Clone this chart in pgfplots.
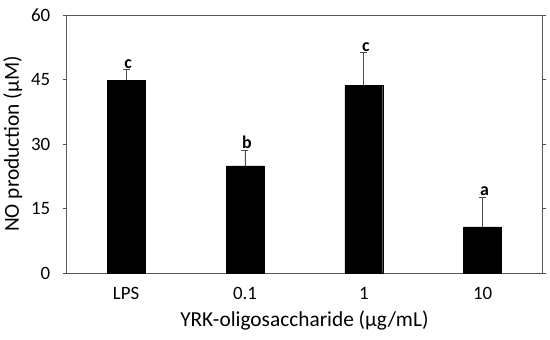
\documentclass[border=0pt]{standalone}
\usepackage{pgfplots}
\pgfplotsset{compat=1.18}
\usepackage{fontspec}
\setmainfont{Carlito}
\begin{document}
\begin{tikzpicture}
\begin{axis}[
  scale only axis,
  width=477bp, height=259bp,
  xmin=-0.5, xmax=3.5,
  ymin=0, ymax=60,
  ytick={0,15,30,45,60},
  xtick={0,1,2,3},
  xticklabels={LPS,0.1,1,10},
  major x tick style={draw=none},
  tick align=outside,
  ytick style={black!70, thin},
  major tick length=4bp,
  axis line style={black!65, line width=0.8pt},
  /pgf/number format/assume math mode=true,
  tick label style={font=\fontsize{19}{19}\selectfont},
  label style={font=\fontsize{21.5}{21.5}\selectfont},
  xlabel={YRK-oligosaccharide (µg/mL)},
  ylabel={NO production (µM)},
  xticklabel style={yshift=-7bp},
  yticklabel style={xshift=-9bp},
  xlabel style={yshift=-4bp},
  ylabel style={yshift=2bp},
  ybar, bar width=38bp,
  clip=false,
]
\addplot[fill=black, draw=black,
  error bars/.cd, y dir=plus, y explicit,
  error bar style={black!70, line width=0.7pt},
  error mark options={rotate=90, mark size=3.5bp, black!70, line width=0.7pt}]
  coordinates {
  (0,44.8) +- (0,2.5)
  (1,24.9) +- (0,3.7)
  (2,43.6) +- (0,7.7)
  (3,10.7) +- (0,7.0)
};
\addplot[draw=none, fill=none, forget plot, ybar=0pt, bar width=0.001bp,
  nodes near coords, point meta=explicit symbolic,
  nodes near coords style={font=\fontsize{18}{18}\selectfont\bfseries, anchor=south, inner sep=1bp}]
  coordinates {
  (0,47.3) [c]
  (1,28.6) [b]
  (2,51.3) [c]
  (3,17.7) [a]
};
\end{axis}
\path[use as bounding box] (current axis.south west) ++(-65bp,-67bp) rectangle ([shift={(8bp,15bp)}]current axis.north east);
\end{tikzpicture}
\end{document}
